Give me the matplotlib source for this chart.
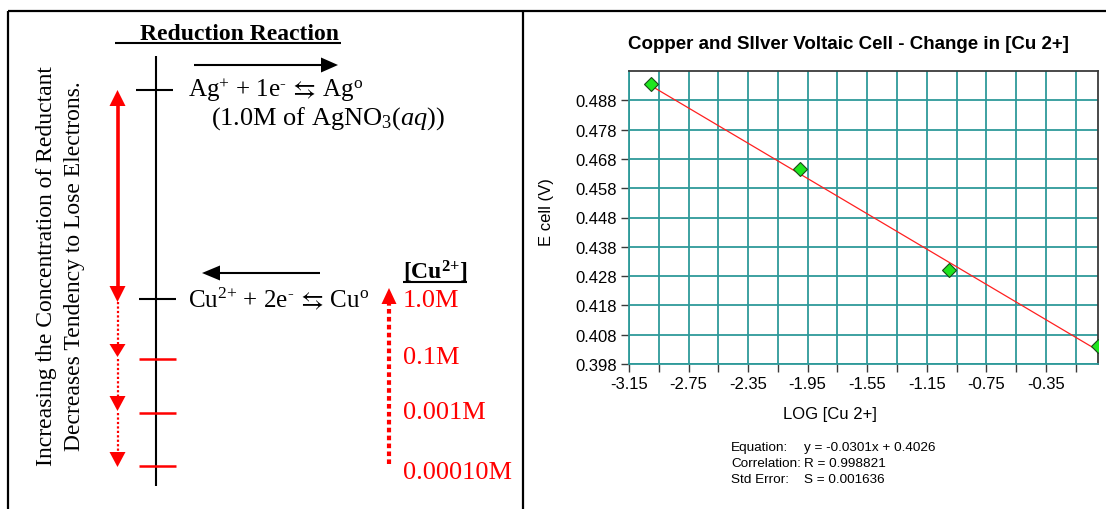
import numpy as np
import matplotlib
matplotlib.use("Agg")
import matplotlib.pyplot as plt
from matplotlib.patches import Polygon
from matplotlib.ticker import FixedLocator, FixedFormatter

# ---- measured cell potentials ----
log_cu = [-3.0, -2.0, -1.0, 0.0]
e_cell = [0.4935, 0.4645, 0.4302, 0.4040]

# ---- least-squares fit results ----
fit_slope = -0.0301
fit_intercept = 0.4026
fit_r = 0.998821
fit_s = 0.001636

# ---- axis ticks ----
x_major = [-3.15, -2.75, -2.35, -1.95, -1.55, -1.15, -0.75, -0.35]
x_minor = [-2.95, -2.55, -2.15, -1.75, -1.35, -0.95, -0.55, -0.15]
x_labels = ["-3.15", "-2.75", "-2.35", "-1.95", "-1.55", "-1.15", "-0.75", "-0.35"]
y_ticks = [0.398, 0.408, 0.418, 0.428, 0.438, 0.448, 0.458, 0.468, 0.478, 0.488]
y_labels = ["0.398", "0.408", "0.418", "0.428", "0.438", "0.448", "0.458", "0.468", "0.478", "0.488"]

# ---- concentration ladder ----
cu_conc_labels = ["1.0M", "0.1M", "0.001M", "0.00010M"]

plt.rcParams.update({
    "mathtext.fontset": "custom",
    "mathtext.rm": "Liberation Serif",
    "mathtext.it": "Liberation Serif:italic",
    "mathtext.bf": "Liberation Serif:bold",
    "mathtext.fallback": "stix",
    "axes.unicode_minus": False,
})

W, H = 1106, 510
fig = plt.figure(figsize=(W / 100, H / 100), dpi=100)
fig.patch.set_facecolor("white")

# full-figure pixel canvas for the frame and the ladder diagram
ov = fig.add_axes([0, 0, 1, 1])
ov.set_xlim(0, W)
ov.set_ylim(H, 0)
ov.axis("off")

SERIF = "Liberation Serif"
RED = "#ff0000"

# frame
ov.plot([8, W], [11.5, 11.5], color="k", lw=1.6, solid_capstyle="butt")
ov.plot([8, 8], [11.5, H], color="k", lw=1.6, solid_capstyle="butt")
ov.plot([523, 523], [11.5, H], color="k", lw=1.6, solid_capstyle="butt")


def vhead(x, tip, base, half, color):
    ov.add_patch(Polygon([(x - half, base), (x + half, base), (x, tip)],
                         closed=True, facecolor=color, edgecolor="none"))


def hhead(y, tip, base, half, color):
    ov.add_patch(Polygon([(base, y - half), (base, y + half), (tip, y)],
                         closed=True, facecolor=color, edgecolor="none"))


# heading
ov.text(140, 40.5, "Reduction Reaction", fontsize=17, fontweight="bold",
        family=SERIF, ha="left", va="baseline")
ov.plot([115, 341], [43.5, 43.5], color="k", lw=1.5, solid_capstyle="butt")

# vertical potential axis
ov.plot([156, 156], [57, 487], color="k", lw=1.5, solid_capstyle="butt")
ov.plot([136, 173], [91, 91], color="k", lw=1.5, solid_capstyle="butt")
ov.plot([139, 176], [300, 300], color="k", lw=1.5, solid_capstyle="butt")

# silver half-reaction
ov.plot([194, 322], [66, 66], color="k", lw=1.5, solid_capstyle="butt")
hhead(66, 338, 321, 7.5, "k")
ov.text(188, 97.5,
        r"Ag$^{{+}}$ + 1e$^{\text{-}}\,\leftrightarrows\,$Ag$^{\mathrm{o}}$",
        fontsize=18, family=SERIF, ha="left", va="baseline")
ov.text(211, 124.5, r"(1.0M of AgNO$_{3}$$\mathit{(aq)}$)", fontsize=19,
        family=SERIF, ha="left", va="baseline")

# copper half-reaction
ov.plot([219, 320], [274, 274], color="k", lw=1.5, solid_capstyle="butt")
hhead(274, 202, 220, 7.5, "k")
ov.text(188, 307.5,
        r"Cu$^{2{+}}$ + 2e$^{\text{-}}\,\leftrightarrows\,$Cu$^{\mathrm{o}}$",
        fontsize=18, family=SERIF, ha="left", va="baseline")

# concentration header and values
ov.text(403, 279, r"[Cu$^{\mathbf{2{+}}}$]", fontsize=17, fontweight="bold",
        family=SERIF, ha="left", va="baseline")
ov.plot([403, 467], [283, 283], color="k", lw=1.5, solid_capstyle="butt")

level_y = [300, 360, 414, 467]
label_base = [307, 364, 419, 479]
for lbl, yb in zip(cu_conc_labels, label_base):
    ov.text(403, yb, lbl, fontsize=19, family=SERIF, color=RED,
            ha="left", va="baseline")
for y in level_y[1:]:
    ov.plot([139, 176], [y, y], color=RED, lw=1.8, solid_capstyle="butt")

# rising dotted arrow beside the concentrations
ov.plot([389, 389], [465, 304], color=RED, lw=3.0,
        linestyle=(0, (1.1, 0.8)), dash_capstyle="butt")
vhead(389, 289, 305, 7.5, RED)

# solid double-headed arrow between the two couples
ov.plot([117.5, 117.5], [106, 289], color=RED, lw=2.6, solid_capstyle="butt")
vhead(117.5, 91, 107, 8, RED)
vhead(117.5, 303, 287, 8, RED)

# dotted arrows stepping down the dilution levels
steps = [(303, 345, 358), (360, 397, 412), (414, 453, 468)]
for top, base, tip in steps:
    ov.plot([117.5, 117.5], [top, base], color=RED, lw=1.6,
            linestyle=(0, (1, 1)), dash_capstyle="butt")
    vhead(117.5, tip, base, 8, RED)

# rotated caption
ov.text(47, 266, "Increasing the Concentration of Reductant", fontsize=17,
        family=SERIF, rotation=90, ha="center", va="center")
ov.text(75, 266, "Decreases Tendency to Lose Electrons.", fontsize=17,
        family=SERIF, rotation=90, ha="center", va="center")

# ---- potential vs log concentration chart ----
SANS = "Liberation Sans"
GRID = "#2e9a9a"
ax_l, ax_r, ax_t, ax_b = 629, 1098, 72, 365
ax = fig.add_axes([ax_l / W, 1 - ax_b / H, (ax_r - ax_l) / W, (ax_b - ax_t) / H])
ax.set_facecolor("white")
ax.set_xlim(-3.15, 0.0)
ax.set_ylim(0.398, 0.498)

ax.xaxis.set_major_locator(FixedLocator(x_major))
ax.xaxis.set_major_formatter(FixedFormatter(x_labels))
ax.xaxis.set_minor_locator(FixedLocator(x_minor))
ax.yaxis.set_major_locator(FixedLocator(y_ticks))
ax.yaxis.set_major_formatter(FixedFormatter(y_labels))

ax.grid(True, which="both", axis="x", color=GRID, lw=1.3)
ax.grid(True, which="major", axis="y", color=GRID, lw=1.3)
ax.set_axisbelow(True)

for side in ("left", "bottom"):
    ax.spines[side].set_color(GRID)
    ax.spines[side].set_linewidth(1.3)
for side in ("top", "right"):
    ax.spines[side].set_color("#3a3a3a")
    ax.spines[side].set_linewidth(1.3)

ax.tick_params(axis="both", which="both", direction="out", length=5.5, width=1.0,
               color="#3a3a3a", labelsize=12, pad=3)
for lab in ax.get_xticklabels() + ax.get_yticklabels():
    lab.set_family(SANS)

fit_x = np.array([log_cu[0], log_cu[-1]])
fit_y = fit_intercept + fit_slope * fit_x
ax.plot(fit_x, fit_y, color="#ff2020", lw=0.9, zorder=3)
ax.plot(log_cu, e_cell, linestyle="none", marker="D", markersize=6.8,
        markerfacecolor="#1ee61e", markeredgecolor="#1a4a1a", markeredgewidth=0.8,
        zorder=4, clip_on=True)

ax.set_xlabel("LOG [Cu 2+]", fontsize=12, family=SANS)
ax.xaxis.set_label_coords((830 - ax_l) / (ax_r - ax_l), (ax_b - 415) / (ax_b - ax_t))
ax.xaxis.label.set_va("center")
ax.set_ylabel("E cell (V)", fontsize=12, family=SANS)
ax.yaxis.set_label_coords((546 - ax_l) / (ax_r - ax_l), (ax_b - 212) / (ax_b - ax_t))
ax.yaxis.label.set_va("center")

ax.text((848 - ax_l) / (ax_r - ax_l), (ax_b - 45) / (ax_b - ax_t),
        "Copper and SIlver Voltaic Cell - Change in [Cu 2+]",
        transform=ax.transAxes, fontsize=13.5, fontweight="bold", family=SANS,
        ha="center", va="center")

# regression summary
stats_rows = [
    ("Equation:", f"y = {fit_slope:.4f}x + {fit_intercept:.4f}"),
    ("Correlation:", f"R = {fit_r:.6f}"),
    ("Std Error:", f"S = {fit_s:.6f}"),
]
for (name, val), yy in zip(stats_rows, [448, 464, 480]):
    ov.text(731, yy, name, fontsize=9.7, family=SANS, ha="left", va="center")
    ov.text(804, yy, val, fontsize=9.7, family=SANS, ha="left", va="center")

fig.savefig("out.png", dpi=100)
